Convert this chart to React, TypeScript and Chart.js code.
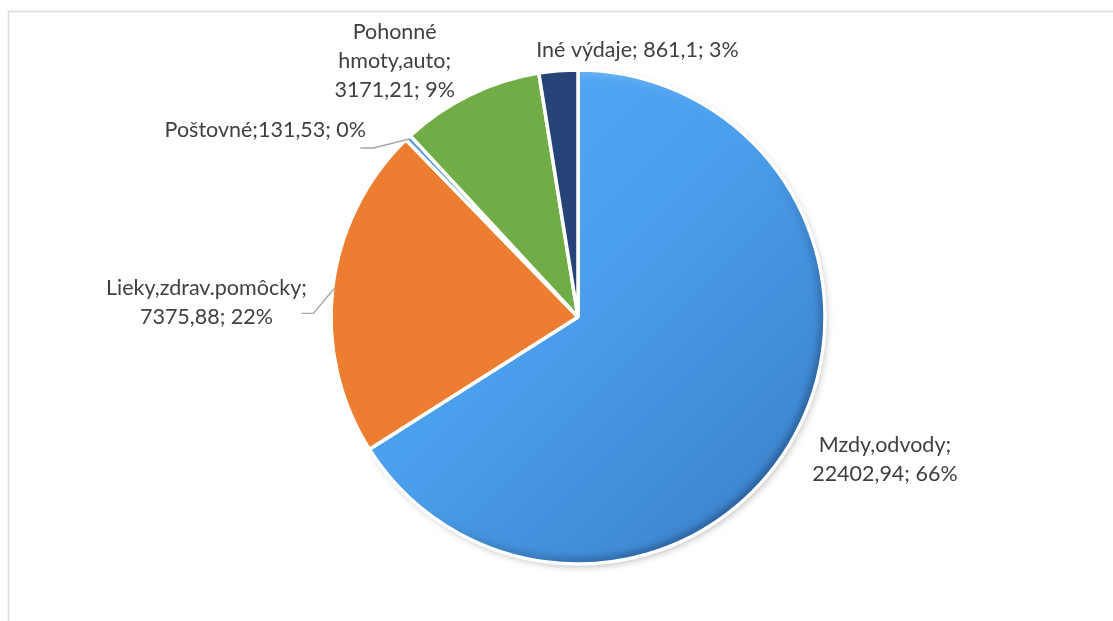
import React, { useEffect, useRef } from "react";
import { Chart, registerables } from "chart.js";

Chart.register(...registerables);

// ---- data ----
const categories = ["Mzdy,odvody", "Lieky,zdrav.pomôcky", "Poštovné", "Pohonné hmoty,auto", "Iné výdaje"];
const values = [22402.94, 7375.88, 131.53, 3171.21, 861.1];
const sliceColors = ["#4A9BE6", "#ED7D31", "#5B9BD5", "#70AD47", "#264478"];

// ---- label layout (text placement relative to the slice's outer mid point) ----
type Layout = { dx: number; dy: number; wrap: string; leader: number[][] | null };
const labelLayout: Layout[] = [
  { dx: 92, dy: 17, wrap: "name;|rest", leader: null },
  { dx: -128, dy: 7, wrap: "name;|rest", leader: [[-21, 25], [-33, 25]] },
  { dx: -144, dy: -2, wrap: "tight", leader: [[-36, 9], [-49, 9]] },
  { dx: -76, dy: -57, wrap: "split", leader: null },
  { dx: 79, dy: -16, wrap: "single", leader: null },
];

const FONT = "21.5px Lato, 'Open Sans', sans-serif";
const LINE_H = 29;
const BORDER_W = 3.5;
const RADIUS = 247;

function fmt(v: number) {
  return String(v).replace(".", ",");
}

function labelLines(i: number): string[] {
  const total = values.reduce((a, b) => a + b, 0);
  const pct = Math.round((values[i] / total) * 100);
  const name = categories[i];
  const rest = `${fmt(values[i])}; ${pct}%`;
  const mode = labelLayout[i].wrap;
  if (mode === "name;|rest") return [`${name};`, rest];
  if (mode === "tight") return [`${name};${rest}`];
  if (mode === "split") {
    const sp = name.indexOf(" ");
    return [name.slice(0, sp), `${name.slice(sp + 1)};`, rest];
  }
  return [`${name}; ${rest}`];
}

function arcProps(arc: any) {
  return arc.getProps(["x", "y", "startAngle", "endAngle", "outerRadius"], true);
}

const framePlugin = {
  id: "frame",
  beforeDraw(chart: any) {
    const ctx = chart.ctx;
    ctx.save();
    ctx.strokeStyle = "#D9D9D9";
    ctx.lineWidth = 1.5;
    ctx.beginPath();
    ctx.moveTo(8.5, chart.height);
    ctx.lineTo(8.5, 11.5);
    ctx.lineTo(chart.width, 11.5);
    ctx.stroke();
    ctx.restore();
  },
};

const shadowPlugin = {
  id: "sliceShadow",
  beforeDatasetsDraw(chart: any) {
    const arc = chart.getDatasetMeta(0).data[0];
    if (!arc) return;
    const { x, y, startAngle, endAngle, outerRadius } = arcProps(arc);
    const ctx = chart.ctx;
    ctx.save();
    ctx.shadowColor = "rgba(0,0,0,0.35)";
    ctx.shadowBlur = 9;
    ctx.shadowOffsetX = 2;
    ctx.shadowOffsetY = 3;
    ctx.fillStyle = "#3A7CC2";
    ctx.beginPath();
    ctx.moveTo(x, y);
    ctx.arc(x, y, outerRadius - BORDER_W / 2, startAngle + 0.01, endAngle - 0.01);
    ctx.closePath();
    ctx.fill();
    ctx.restore();
  },
  afterDatasetsDraw(chart: any) {
    // soft bevel on the big slice
    const arc = chart.getDatasetMeta(0).data[0];
    if (!arc) return;
    const { x, y, startAngle, endAngle, outerRadius } = arcProps(arc);
    const r = outerRadius - BORDER_W / 2;
    const ctx = chart.ctx;
    ctx.save();
    ctx.beginPath();
    ctx.moveTo(x, y);
    ctx.arc(x, y, r, startAngle + 0.012, endAngle - 0.012);
    ctx.closePath();
    ctx.clip();
    const g = ctx.createLinearGradient(x - r, y - r, x + r, y + r);
    g.addColorStop(0, "rgba(255,255,255,0.35)");
    g.addColorStop(0.45, "rgba(255,255,255,0)");
    g.addColorStop(0.55, "rgba(0,0,0,0)");
    g.addColorStop(1, "rgba(10,40,90,0.55)");
    ctx.filter = "blur(3px)";
    ctx.strokeStyle = g;
    ctx.lineWidth = 9;
    ctx.beginPath();
    ctx.arc(x, y, r, 0, Math.PI * 2);
    ctx.stroke();
    ctx.restore();
  },
};

const labelsPlugin = {
  id: "sliceLabels",
  afterDatasetsDraw(chart: any) {
    const ctx = chart.ctx;
    const meta = chart.getDatasetMeta(0);
    ctx.save();
    meta.data.forEach((arc: any, i: number) => {
      const { x, y, startAngle, endAngle, outerRadius } = arcProps(arc);
      const mid = (startAngle + endAngle) / 2;
      const r = outerRadius - BORDER_W / 2;
      const ax = x + Math.cos(mid) * r;
      const ay = y + Math.sin(mid) * r;
      const lay = labelLayout[i];
      if (lay.leader) {
        ctx.strokeStyle = "#A6A6A6";
        ctx.lineWidth = 1.3;
        ctx.beginPath();
        ctx.moveTo(ax, ay);
        lay.leader.forEach((p) => ctx.lineTo(ax + p[0], ay + p[1]));
        ctx.stroke();
      }
      ctx.font = FONT;
      ctx.fillStyle = "#404040";
      ctx.textAlign = "center";
      ctx.textBaseline = "alphabetic";
      labelLines(i).forEach((line, j) => {
        ctx.fillText(line, ax + lay.dx, ay + lay.dy + j * LINE_H);
      });
    });
    ctx.restore();
  },
};

export default function App() {
  const canvasRef = useRef<HTMLCanvasElement | null>(null);

  useEffect(() => {
    document.body.style.margin = "0";
    const canvas = canvasRef.current;
    if (!canvas) return;
    const chart = new Chart(canvas, {
      type: "pie",
      data: {
        labels: categories,
        datasets: [
          {
            data: values,
            backgroundColor: (c: any) => {
              const i = c.dataIndex;
              if (i === 0) {
                const area = c.chart.chartArea;
                if (!area) return sliceColors[0];
                const cx = (area.left + area.right) / 2;
                const cy = (area.top + area.bottom) / 2;
                const g = c.chart.ctx.createLinearGradient(cx - RADIUS, cy - RADIUS, cx + RADIUS, cy + RADIUS);
                g.addColorStop(0, "#56ADF8");
                g.addColorStop(0.45, "#4BA0EE");
                g.addColorStop(1, "#3A7DC4");
                return g;
              }
              return sliceColors[i];
            },
            borderColor: "#FFFFFF",
            borderWidth: BORDER_W,
            radius: RADIUS,
          } as any,
        ],
      },
      options: {
        animation: false,
        responsive: true,
        maintainAspectRatio: false,
        layout: { padding: { left: 100, right: 57, top: 60, bottom: 47 } },
        plugins: {
          legend: { display: false },
          tooltip: { enabled: false },
        },
      },
      plugins: [framePlugin, shadowPlugin, labelsPlugin],
    });
    return () => chart.destroy();
  }, []);

  return (
    <div style={{ position: "relative", width: "1113px", height: "621px", background: "#FFFFFF" }}>
      <canvas ref={canvasRef} />
    </div>
  );
}
